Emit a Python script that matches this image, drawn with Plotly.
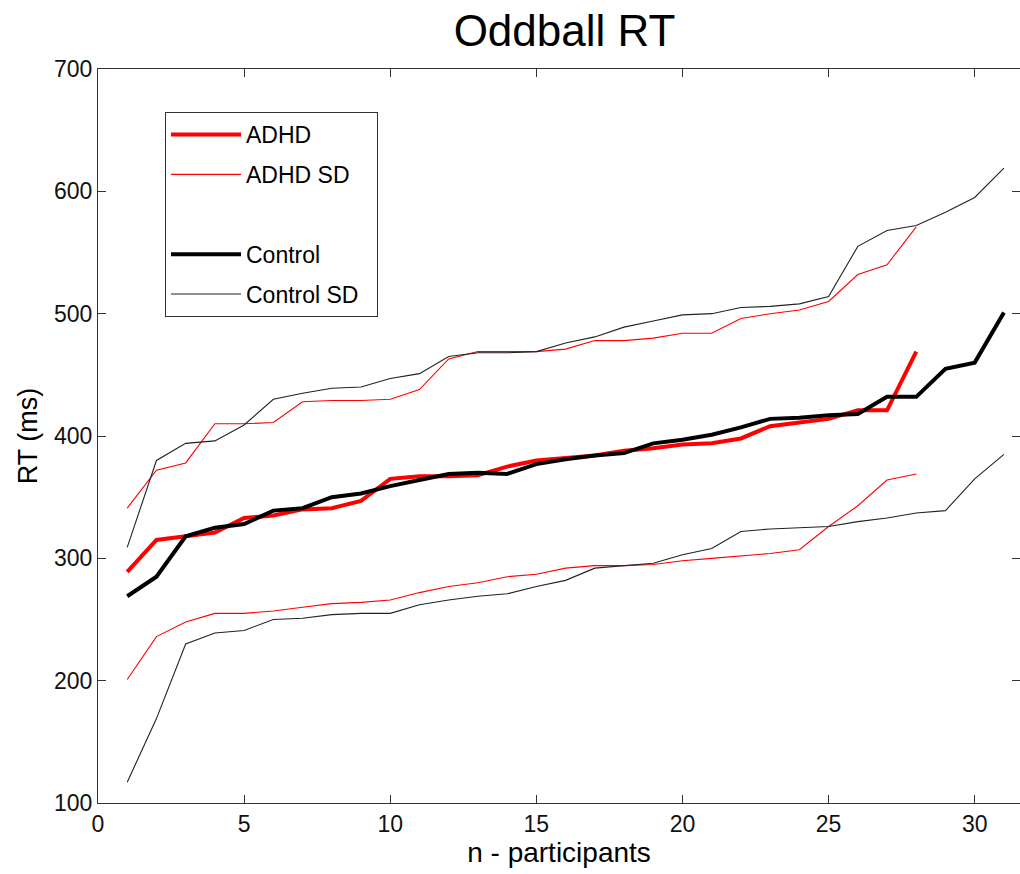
import plotly.graph_objects as go

# Data (RT in ms, participants sorted)
adhd_mean = [289, 315, 318, 321, 333, 335, 340, 341, 347, 365, 367, 367, 368, 375,
             380, 382, 384, 388, 390, 393, 394, 398, 408, 411, 414, 421, 421, 469]
adhd_upper = [341, 372, 378, 410, 410, 411, 428, 429, 429, 430, 438, 463, 469, 469,
              469, 471, 478, 478, 480, 484, 484, 496, 500, 503, 510, 532, 540, 571]
adhd_lower = [201, 236, 248, 255, 255, 257, 260, 263, 264, 266, 272, 277, 280, 285,
              287, 292, 294, 294, 295, 298, 300, 302, 304, 307, 326, 343, 364, 369]

control_mean = [269, 285, 318, 325, 328, 339, 341, 350, 353, 359, 364, 369, 370, 369,
                377, 381, 384, 386, 394, 397, 401, 407, 414, 415, 417, 418, 432, 432,
                455, 460, 501]
control_upper = [309, 380, 394, 396, 409, 430, 435, 439, 440, 447, 451, 465, 468, 468,
                 469, 476, 481, 489, 494, 499, 500, 505, 506, 508, 514, 555, 568, 572,
                 583, 595, 619]
control_lower = [117, 169, 230, 239, 241, 250, 251, 254, 255, 255, 262, 266, 269, 271,
                 277, 282, 292, 294, 296, 303, 308, 322, 324, 325, 326, 330, 333, 337,
                 339, 365, 385]

x_adhd = list(range(1, len(adhd_mean) + 1))
x_ctrl = list(range(1, len(control_mean) + 1))

x_ticks = [0, 5, 10, 15, 20, 25, 30]
y_ticks = [100, 200, 300, 400, 500, 600, 700]

FONT = "Liberation Sans, Arial, Helvetica, sans-serif"
RED = "#ff0000"
BLACK = "#000000"

fig = go.Figure()

fig.add_trace(go.Scatter(x=x_adhd, y=adhd_mean, mode="lines", name="ADHD",
                         line=dict(color=RED, width=4), legendgroup="g1"))
fig.add_trace(go.Scatter(x=x_adhd, y=adhd_upper, mode="lines", name="ADHD SD",
                         line=dict(color=RED, width=1.1), legendgroup="g2"))
fig.add_trace(go.Scatter(x=x_adhd, y=adhd_lower, mode="lines", name="ADHD SD",
                         line=dict(color=RED, width=1.1), legendgroup="g2",
                         showlegend=False))
# blank legend row
fig.add_trace(go.Scatter(x=[None], y=[None], mode="lines", name=" ",
                         line=dict(color="rgba(0,0,0,0)", width=1), legendgroup="g3",
                         hoverinfo="skip"))
fig.add_trace(go.Scatter(x=x_ctrl, y=control_mean, mode="lines", name="Control",
                         line=dict(color=BLACK, width=4), legendgroup="g4"))
fig.add_trace(go.Scatter(x=x_ctrl, y=control_upper, mode="lines",
                         name="Control SD&nbsp;&nbsp;",
                         line=dict(color="#222222", width=1.1), legendgroup="g5"))
fig.add_trace(go.Scatter(x=x_ctrl, y=control_lower, mode="lines", name="Control SD",
                         line=dict(color="#222222", width=1.1), legendgroup="g5",
                         showlegend=False))

axis_common = dict(
    showgrid=False, zeroline=False, showline=True, linecolor="#333333", linewidth=1,
    mirror="allticks", ticks="inside", ticklen=8, tickcolor="#333333", tickwidth=1,
    tickfont=dict(family=FONT, size=23, color="#111111"), automargin=False,
)

fig.update_layout(
    width=1020, height=874,
    margin=dict(l=98, r=0, t=69, b=71, autoexpand=False),
    paper_bgcolor="white", plot_bgcolor="white",
    font=dict(family=FONT, color="#000000"),
    title=dict(text="Oddball RT", font=dict(family=FONT, size=44, color="#000000"),
               x=(564.5 - 98) / 922, xref="paper", xanchor="center",
               y=1 - 31 / 874, yref="container", yanchor="middle"),
    xaxis=dict(range=[0, 31.55], tickvals=x_ticks, ticktext=[str(v) for v in x_ticks],
               title=dict(text="n - participants", font=dict(family=FONT, size=28),
                          standoff=6),
               **axis_common),
    yaxis=dict(range=[100, 700], tickvals=y_ticks, ticktext=[str(v) for v in y_ticks],
               title=dict(text="RT (ms)", font=dict(family=FONT, size=27), standoff=8),
               **axis_common),
    legend=dict(x=(165 - 98) / 922, y=(803 - 112) / 734, xanchor="left", yanchor="top",
                bordercolor="#333333", borderwidth=1, bgcolor="white",
                font=dict(family=FONT, size=23, color="#000000"),
                traceorder="grouped", tracegroupgap=7, itemwidth=70),
    showlegend=True,
)

# remove the default 8px page margin so the figure sits at the window's corner
fig.write_html("out.html",
               config={"displayModeBar": False},
               post_script="document.body.style.margin='0';document.body.style.padding='0';")
